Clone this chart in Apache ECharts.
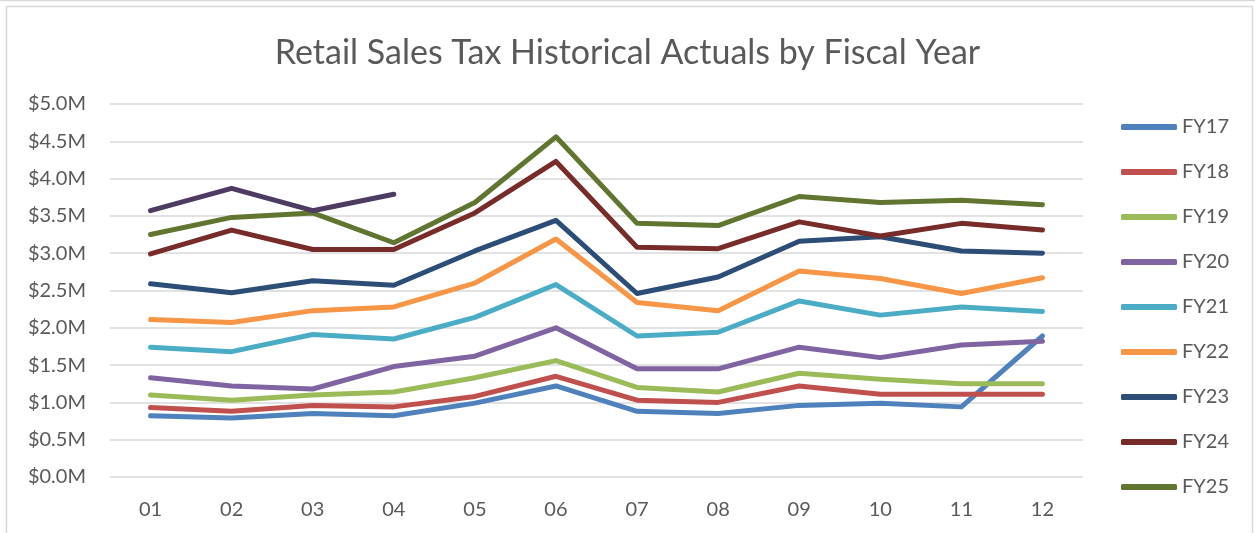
<!DOCTYPE html>
<html>
<head>
<meta charset="utf-8">
<script src="https://cdn.jsdelivr.net/npm/echarts@6/dist/echarts.min.js"></script>
<style>
  html, body { margin: 0; padding: 0; background: #fff; }
  #chart { width: 1255px; height: 533px; }
</style>
</head>
<body>
<div id="chart"></div>
<script>
// months of the fiscal year
var months = ['01', '02', '03', '04', '05', '06', '07', '08', '09', '10', '11', '12'];

// monthly actuals, $M
var fy17 = [0.82, 0.79, 0.85, 0.82, 0.99, 1.22, 0.88, 0.85, 0.96, 0.99, 0.94, 1.89];
var fy18 = [0.93, 0.88, 0.96, 0.94, 1.08, 1.35, 1.03, 1.00, 1.22, 1.11, 1.11, 1.11];
var fy19 = [1.10, 1.03, 1.10, 1.14, 1.33, 1.56, 1.20, 1.14, 1.39, 1.31, 1.25, 1.25];
var fy20 = [1.33, 1.22, 1.18, 1.48, 1.62, 2.00, 1.45, 1.45, 1.74, 1.60, 1.77, 1.82];
var fy21 = [1.74, 1.68, 1.91, 1.85, 2.14, 2.58, 1.89, 1.94, 2.36, 2.17, 2.28, 2.22];
var fy22 = [2.11, 2.07, 2.23, 2.28, 2.60, 3.19, 2.34, 2.23, 2.76, 2.66, 2.46, 2.67];
var fy23 = [2.59, 2.47, 2.63, 2.57, 3.03, 3.44, 2.46, 2.68, 3.16, 3.22, 3.03, 3.00];
var fy24 = [2.99, 3.31, 3.05, 3.05, 3.54, 4.23, 3.08, 3.06, 3.42, 3.23, 3.40, 3.31];
var fy25 = [3.25, 3.48, 3.54, 3.14, 3.68, 4.56, 3.40, 3.37, 3.76, 3.68, 3.71, 3.65];
var fy26 = [3.57, 3.87, 3.57, 3.79];

var names = ['FY17', 'FY18', 'FY19', 'FY20', 'FY21', 'FY22', 'FY23', 'FY24', 'FY25', 'FY26'];
var values = [fy17, fy18, fy19, fy20, fy21, fy22, fy23, fy24, fy25, fy26];
var colors = ['#4F81BD', '#C0504D', '#9BBB59', '#8064A2', '#4BACC6',
              '#F79646', '#2C4D75', '#772C2A', '#5F7530', '#4D3B62'];

var series = names.map(function (n, i) {
  return {
    name: n,
    type: 'line',
    data: values[i],
    symbol: 'none',
    lineStyle: { width: 5, color: colors[i], cap: 'round', join: 'round' },
    itemStyle: { color: colors[i] }
  };
});

var myChart = echarts.init(document.getElementById('chart'));
myChart.setOption({
  animation: false,
  textStyle: { fontFamily: 'Lato' },
  title: {
    text: 'Retail Sales Tax Historical Actuals by Fiscal Year',
    left: 'center',
    top: 31,
    textStyle: { fontSize: 34, fontWeight: 'normal', color: '#595959', fontFamily: 'Lato' }
  },
  graphic: [{
    type: 'rect',
    shape: { x: 6.5, y: 6.5, width: 1246, height: 540 },
    style: { fill: 'none', stroke: '#d9d9d9', lineWidth: 1.5 }
  }, {
    type: 'line',
    shape: { x1: 0, y1: 0.5, x2: 1255, y2: 0.5 },
    style: { stroke: '#d9d9d9', lineWidth: 1.5 }
  }],
  legend: {
    data: names.slice(0, 9),
    orient: 'vertical',
    left: 1121,
    top: 117,
    padding: 0,
    itemWidth: 56,
    itemHeight: 6,
    itemGap: 25,
    icon: 'roundRect',
    textStyle: { fontSize: 20, color: '#595959', lineHeight: 20 }
  },
  grid: { left: 110, right: 172, top: 104, bottom: 56, containLabel: false },
  xAxis: {
    type: 'category',
    data: months,
    boundaryGap: true,
    axisLine: { show: false },
    axisTick: { show: false },
    axisLabel: { fontSize: 20, color: '#595959', margin: 23 }
  },
  yAxis: {
    type: 'value',
    min: 0,
    max: 5,
    interval: 0.5,
    axisLine: { show: false },
    axisTick: { show: false },
    splitLine: { lineStyle: { color: '#d9d9d9', width: 1.5 } },
    axisLabel: {
      fontSize: 20,
      color: '#595959',
      margin: 24,
      formatter: function (v) { return '$' + v.toFixed(1) + 'M'; }
    }
  },
  series: series
});
</script>
</body>
</html>
